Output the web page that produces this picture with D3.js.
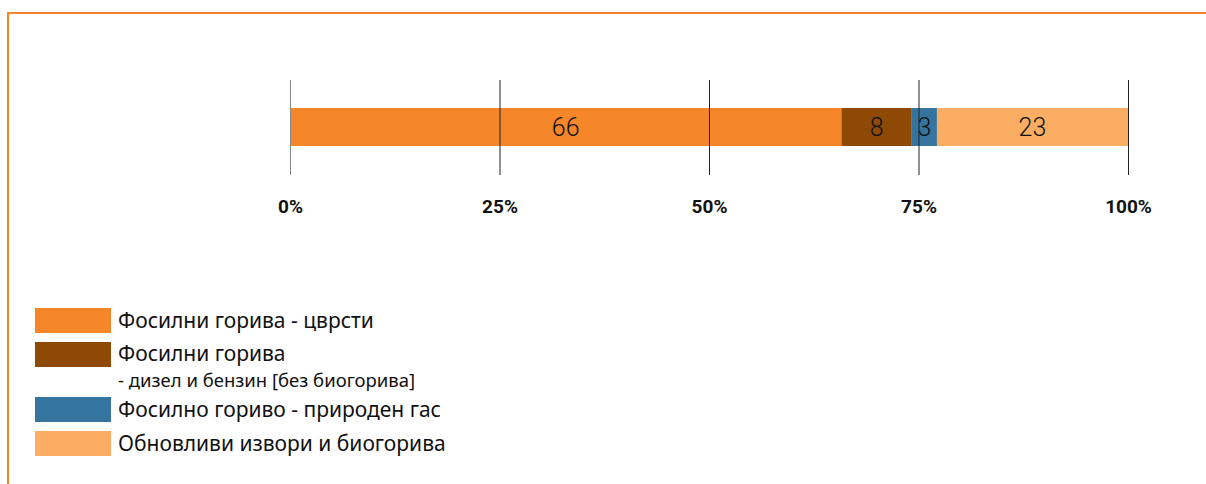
<!DOCTYPE html>
<html><head><meta charset="utf-8">
<script src="https://cdn.jsdelivr.net/npm/d3@7"></script>
<style>
html,body{margin:0;padding:0;background:#fff;}
svg{display:block;}
</style></head>
<body>
<script>
const categories = ["Фосилни горива - цврсти", "Фосилни горива", "Фосилно гориво - природен гас", "Обновливи извори и биогорива"];
const subLabels = ["", "- дизел и бензин [без биогорива]", "", ""];
const values = [65.8, 8.4, 3.0, 22.8];
const colors = ["#f5862a", "#8e4a04", "#34749f", "#faad63"];
const ticks = [0, 25, 50, 75, 100];

const W = 1206, H = 484;
const svg = d3.select("body").append("svg").attr("width", W).attr("height", H);

// frame
svg.append("path").attr("d", `M8,${H} L8,13 L${W},13`).attr("fill","none").attr("stroke","#f5862a").attr("stroke-width",2);

const x = d3.scaleLinear().domain([0,100]).range([290,1128]);
const y = d3.scaleBand().domain(["row"]).range([108,146]);

let acc = 0;
const segs = values.map((v,i)=>{ const s={start:acc,end:acc+v,v,i}; acc+=v; return s; });

const g = svg.append("g");
g.selectAll("rect.bar").data(segs).join("rect")
  .attr("x", d=>x(d.start)).attr("width", d=>x(d.end)-x(d.start))
  .attr("y", y("row")).attr("height", y.bandwidth())
  .attr("fill", d=>colors[d.i]);

g.selectAll("text.val").data(segs).join("text")
  .attr("x", d=>(x(d.start)+x(d.end))/2)
  .attr("y", y("row")+y.bandwidth()/2+9)
  .attr("text-anchor","middle")
  .attr("font-family","Roboto, sans-serif").attr("font-weight",300)
  .attr("font-size",25).attr("fill","#111")
  .text(d=>d3.format(".0f")(d.v));

// axis / gridlines
const axis = d3.axisBottom(x).tickValues(ticks).tickFormat(d=>d+"%").tickSize(95).tickPadding(0);
const ax = svg.append("g").attr("transform","translate(0,80)").call(axis);
ax.select(".domain").remove();
ax.selectAll(".tick line").attr("stroke", d=>d===0?"#888":"#222").attr("stroke-width",1);
ax.selectAll(".tick text").attr("y",133).attr("dy",0)
  .attr("font-family","Roboto, sans-serif").attr("font-weight",700)
  .attr("font-size",19).attr("fill","#111");

// legend
const legY = d3.scaleOrdinal().domain(categories).range([308, 342, 397, 431]);
const leg = svg.append("g");
const items = leg.selectAll("g").data(categories).join("g")
  .attr("transform", d=>`translate(35,${legY(d)})`);
items.append("rect").attr("width",76).attr("height",25).attr("fill",(d,i)=>colors[i]);
items.append("text").attr("x",83).attr("y",(d,i)=>subLabels[i]?19:20)
  .attr("font-family","'Noto Sans', 'Open Sans', sans-serif").attr("font-size",21).attr("fill","#111")
  .text(d=>d);
items.filter((d,i)=>subLabels[i]).append("text").attr("x",83).attr("y",45)
  .attr("font-family","'Noto Sans', 'Open Sans', sans-serif").attr("font-size",18.5).attr("fill","#111")
  .text(d=>subLabels[categories.indexOf(d)]);
</script>
</body></html>
